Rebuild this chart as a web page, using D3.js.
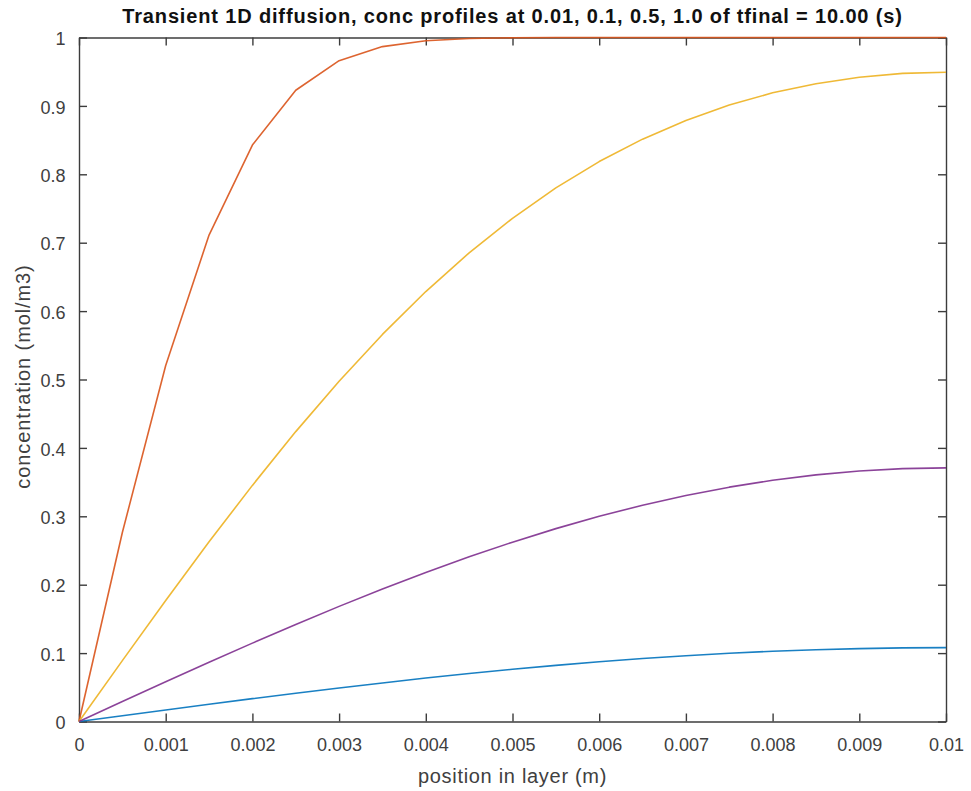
<!DOCTYPE html>
<html>
<head>
<meta charset="utf-8">
<script src="https://cdn.jsdelivr.net/npm/d3@7"></script>
<style>
  html, body { margin: 0; padding: 0; background: #fff; }
  svg { display: block; font-family: "Liberation Sans", Arial, Helvetica, sans-serif; }
</style>
</head>
<body>
<svg id="chart" width="971" height="791"></svg>
<script>
// ---- data ----
const positions = [0, 0.0005, 0.001, 0.0015, 0.002, 0.0025, 0.003, 0.0035, 0.004, 0.0045, 0.005,
                   0.0055, 0.006, 0.0065, 0.007, 0.0075, 0.008, 0.0085, 0.009, 0.0095, 0.01];
const concBlue   = [0, 0.0085, 0.0169, 0.0252, 0.0334, 0.0413, 0.0490, 0.0564, 0.0635, 0.0701, 0.0764,
                    0.0821, 0.0874, 0.0921, 0.0962, 0.0998, 0.1027, 0.1050, 0.1066, 0.1076, 0.1080];
const concRed    = [0, 0.2763, 0.5205, 0.7112, 0.8427, 0.9229, 0.9661, 0.9867, 0.9953, 0.9985, 0.9996,
                    0.9999, 1.0, 1.0, 1.0, 1.0, 1.0, 1.0, 1.0, 1.0, 1.0];
const concYellow = [0, 0.0890, 0.1769, 0.2627, 0.3452, 0.4238, 0.4975, 0.5659, 0.6286, 0.6852, 0.7357,
                    0.7801, 0.8186, 0.8514, 0.8788, 0.9013, 0.9191, 0.9325, 0.9419, 0.9475, 0.9493];
const concPurple = [0, 0.0291, 0.0580, 0.0866, 0.1146, 0.1419, 0.1683, 0.1937, 0.2180, 0.2408, 0.2622,
                    0.2820, 0.3000, 0.3162, 0.3304, 0.3426, 0.3527, 0.3606, 0.3662, 0.3697, 0.3708];
const seriesColors = ["#0072BD", "#D95319", "#EDB120", "#7E2F8E"];
const xTicks = [0, 0.001, 0.002, 0.003, 0.004, 0.005, 0.006, 0.007, 0.008, 0.009, 0.01];
const xTickLabels = ["0", "0.001", "0.002", "0.003", "0.004", "0.005", "0.006", "0.007", "0.008", "0.009", "0.01"];
const yTicks = [0, 0.1, 0.2, 0.3, 0.4, 0.5, 0.6, 0.7, 0.8, 0.9, 1];
const yTickLabels = ["0", "0.1", "0.2", "0.3", "0.4", "0.5", "0.6", "0.7", "0.8", "0.9", "1"];
const titleText = "Transient 1D diffusion, conc profiles at 0.01, 0.1, 0.5, 1.0 of tfinal = 10.00 (s)";
const xLabel = "position in layer (m)";
const yLabel = "concentration (mol/m3)";

// ---- layout ----
const svg = d3.select("#chart");
const mLeft = 79, mRight = 946, mTop = 37.5, mBottom = 721.5;
const x = d3.scaleLinear().domain([0, 0.01]).range([mLeft, mRight]);
const y = d3.scaleLinear().domain([0, 1]).range([mBottom, mTop]);
const axisColor = "#3c3c3c";
const labelColor = "#404040";
const tickLen = 8;

// axes
const gx = svg.append("g").attr("transform", `translate(0,${mBottom})`)
  .call(d3.axisBottom(x).tickValues(xTicks).tickFormat((d, i) => xTickLabels[i])
        .tickSizeInner(-tickLen).tickSizeOuter(0).tickPadding(16.5));
const gxTop = svg.append("g").attr("transform", `translate(0,${mTop})`)
  .call(d3.axisTop(x).tickValues(xTicks).tickFormat("").tickSizeInner(-tickLen).tickSizeOuter(0));
const gy = svg.append("g").attr("transform", `translate(${mLeft},0)`)
  .call(d3.axisLeft(y).tickValues(yTicks).tickFormat((d, i) => yTickLabels[i])
        .tickSizeInner(-tickLen).tickSizeOuter(0).tickPadding(13.5));
const gyRight = svg.append("g").attr("transform", `translate(${mRight},0)`)
  .call(d3.axisRight(y).tickValues(yTicks).tickFormat("").tickSizeInner(-tickLen).tickSizeOuter(0));

[gx, gxTop, gy, gyRight].forEach(g => {
  g.select(".domain").attr("stroke", axisColor).attr("stroke-width", 1.4);
  g.selectAll(".tick line").attr("stroke", axisColor).attr("stroke-width", 1.4);
  g.selectAll(".tick text").attr("fill", labelColor).attr("font-size", 18)
    .attr("font-family", "'Liberation Sans', Arial, Helvetica, sans-serif");
});
gy.selectAll(".tick text").attr("dy", "0.40em");

// series lines
const allSeries = [concBlue, concRed, concYellow, concPurple];
const line = d3.line().x((d, i) => x(positions[i])).y(d => y(d));
svg.append("g").selectAll("path").data(allSeries).join("path")
  .attr("d", d => line(d))
  .attr("fill", "none")
  .attr("stroke", (d, i) => seriesColors[i])
  .attr("stroke-width", 1.6)
  .attr("stroke-opacity", 0.9)
  .attr("stroke-linejoin", "round");

// title and labels
svg.append("text").attr("x", (mLeft + mRight) / 2).attr("y", 23)
  .attr("text-anchor", "middle").attr("font-weight", "bold").attr("font-size", 20)
  .attr("letter-spacing", 0.85)
  .attr("fill", "#111").text(titleText);
svg.append("text").attr("x", (mLeft + mRight) / 2).attr("y", 783)
  .attr("text-anchor", "middle").attr("font-size", 20).attr("letter-spacing", 0.7)
  .attr("fill", labelColor).text(xLabel);
svg.append("text").attr("transform", `translate(30,${(mTop + mBottom) / 2 - 3}) rotate(-90)`)
  .attr("text-anchor", "middle").attr("font-size", 20).attr("letter-spacing", 0.9)
  .attr("fill", labelColor).text(yLabel);
</script>
</body>
</html>
